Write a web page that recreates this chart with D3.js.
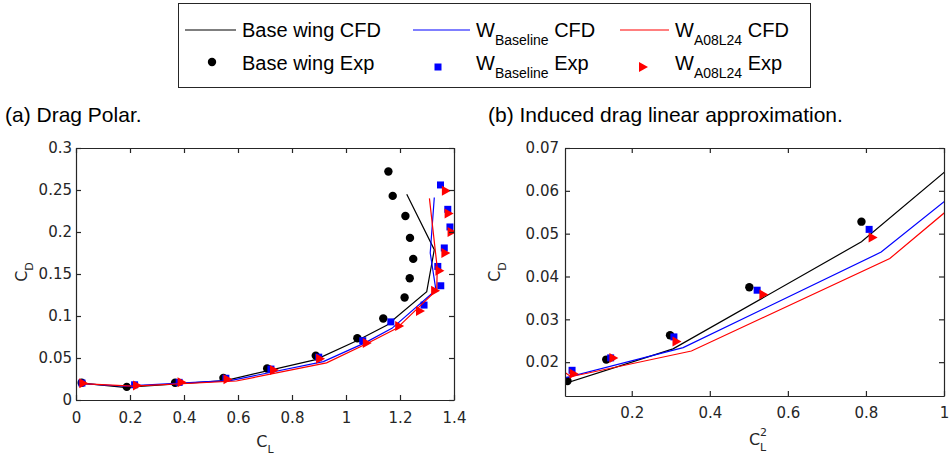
<!DOCTYPE html>
<html><head><meta charset="utf-8">
<script src="https://cdn.jsdelivr.net/npm/d3@7"></script>
<style>
body{margin:0;background:#fff}
svg{display:block}
.tick text{font-family:"DejaVu Sans",sans-serif;font-size:15px;fill:#262626}
.axis path,.axis line{stroke:#262626;stroke-width:1.2}
</style></head><body>
<script>
// ---------- data (left plot: C_L vs C_D) ----------
const baseCfdCL = [0.02, 0.18, 0.553, 0.888, 1.04, 1.151, 1.299, 1.327, 1.225];
const baseCfdCD = [0.0200, 0.0151, 0.0231, 0.0481, 0.0705, 0.089, 0.129, 0.179, 0.245];
const blueCfdCL = [0.02, 0.18, 0.576, 0.916, 1.07, 1.17, 1.333, 1.312, 1.327];
const blueCfdCD = [0.0195, 0.0164, 0.0234, 0.0457, 0.068, 0.0853, 0.131, 0.175, 0.241];
const redCfdCL  = [0.02, 0.21, 0.594, 0.928, 1.08, 1.188, 1.336, 1.338, 1.309];
const redCfdCD  = [0.0195, 0.0166, 0.0226, 0.0442, 0.0675, 0.0853, 0.131, 0.157, 0.240];

const baseExpCL = [0.021, 0.188, 0.367, 0.546, 0.708, 0.888, 1.042, 1.138, 1.217, 1.236, 1.249, 1.237, 1.220, 1.173, 1.157];
const baseExpCD = [0.0206, 0.0156, 0.0206, 0.0263, 0.0375, 0.0528, 0.0735, 0.097, 0.122, 0.145, 0.168, 0.193, 0.219, 0.243, 0.272];
const blueExpCL = [0.022, 0.217, 0.382, 0.555, 0.722, 0.899, 1.062, 1.166, 1.289, 1.351, 1.340, 1.364, 1.385, 1.377, 1.350];
const blueExpCD = [0.0202, 0.0181, 0.0210, 0.0259, 0.0368, 0.0510, 0.0706, 0.093, 0.113, 0.136, 0.159, 0.181, 0.206, 0.227, 0.256];
const redExpCL  = [0.027, 0.226, 0.391, 0.561, 0.733, 0.904, 1.077, 1.197, 1.274, 1.330, 1.346, 1.368, 1.391, 1.380, 1.370];
const redExpCD  = [0.0198, 0.0173, 0.0210, 0.0248, 0.0358, 0.0491, 0.068, 0.088, 0.106, 0.130, 0.154, 0.175, 0.200, 0.222, 0.249];

// ---------- ticks ----------
const leftXTicks  = [0, 0.2, 0.4, 0.6, 0.8, 1, 1.2, 1.4];
const leftYTicks  = [0, 0.05, 0.1, 0.15, 0.2, 0.25, 0.3];
const rightXTicks = [0.2, 0.4, 0.6, 0.8, 1];
const rightYTicks = [0.02, 0.03, 0.04, 0.05, 0.06, 0.07];
const leftXLabels  = ["0","0.2","0.4","0.6","0.8","1","1.2","1.4"];
const leftYLabels  = ["0","0.05","0.1","0.15","0.2","0.25","0.3"];
const rightXLabels = ["0.2","0.4","0.6","0.8","1"];
const rightYLabels = ["0.02","0.03","0.04","0.05","0.06","0.07"];

const W = 952, H = 455;
const svg = d3.select("body").append("svg").attr("width", W).attr("height", H);
const AX = "#262626";

const series = [
  {cl: baseCfdCL, cd: baseCfdCD, type: "line", color: "#000000"},
  {cl: baseExpCL, cd: baseExpCD, type: "circle", color: "#000000"},
  {cl: blueCfdCL, cd: blueCfdCD, type: "line", color: "#0000ff"},
  {cl: blueExpCL, cd: blueExpCD, type: "square", color: "#0000ff"},
  {cl: redCfdCL,  cd: redCfdCD,  type: "line", color: "#ff0000"},
  {cl: redExpCL,  cd: redExpCD,  type: "tri", color: "#ff0000"}
];

function drawMarker(g, type, color, x, y) {
  if (type === "circle") g.append("circle").attr("cx", x).attr("cy", y).attr("r", 4.2).attr("fill", color);
  else if (type === "square") g.append("rect").attr("x", x - 3.5).attr("y", y - 3.5).attr("width", 7).attr("height", 7).attr("fill", color);
  else if (type === "tri") g.append("path").attr("d", `M${x-4},${y-5}L${x+5},${y}L${x-4},${y+5}Z`).attr("fill", color);
}

function panel(opts) {
  const {x, y, xTicks, yTicks, xLabels, yLabels, xf, id, xPad, yPad} = opts;
  const g = svg.append("g");
  const [x0, x1] = x.range(), [y0, y1] = y.range();
  svg.append("clipPath").attr("id", id).append("rect")
    .attr("x", x0).attr("y", y1).attr("width", x1 - x0).attr("height", y0 - y1);
  const data = g.append("g").attr("clip-path", `url(#${id})`);
  const [dx0, dx1] = x.domain(), [dy0, dy1] = y.domain();
  series.forEach(s => {
    const pts = s.cl.map((c, i) => [xf(c), s.cd[i]]);
    if (s.type === "line") {
      data.append("path").attr("d", d3.line().x(p => x(p[0])).y(p => y(p[1]))(pts))
        .attr("fill", "none").attr("stroke", s.color).attr("stroke-width", 1.2);
    } else {
      pts.filter(p => p[0] >= dx0 && p[0] <= dx1 && p[1] >= dy0 && p[1] <= dy1)
        .forEach(p => drawMarker(data, s.type, s.color, x(p[0]), y(p[1])));
    }
  });
  const fx = d => xLabels[xTicks.indexOf(d)], fy = d => yLabels[yTicks.indexOf(d)];
  g.append("g").attr("class", "axis").attr("transform", `translate(0,${y0})`)
    .call(d3.axisBottom(x).tickValues(xTicks).tickFormat(fx).tickSizeInner(-5).tickSizeOuter(0).tickPadding(xPad));
  g.append("g").attr("class", "axis").attr("transform", `translate(0,${y1})`)
    .call(d3.axisTop(x).tickValues(xTicks).tickFormat("").tickSizeInner(-5).tickSizeOuter(0));
  g.append("g").attr("class", "axis").attr("transform", `translate(${x0},0)`)
    .call(d3.axisLeft(y).tickValues(yTicks).tickFormat(fy).tickSizeInner(-5).tickSizeOuter(0).tickPadding(yPad));
  g.append("g").attr("class", "axis").attr("transform", `translate(${x1},0)`)
    .call(d3.axisRight(y).tickValues(yTicks).tickFormat("").tickSizeInner(-5).tickSizeOuter(0));
  g.selectAll(".domain").attr("stroke", AX);
}

const xL = d3.scaleLinear().domain([0, 1.4]).range([76, 454]);
const yL = d3.scaleLinear().domain([0, 0.3]).range([400, 148]);
panel({x: xL, y: yL, xTicks: leftXTicks, yTicks: leftYTicks, xLabels: leftXLabels, yLabels: leftYLabels,
  xf: c => c, id: "clipL", xPad: 12, yPad: 4});

const xR = d3.scaleLinear().domain([0.029, 1]).range([565, 944]);
const yR = d3.scaleLinear().domain([0.0121, 0.07]).range([396, 148]);
panel({x: xR, y: yR, xTicks: rightXTicks, yTicks: rightYTicks, xLabels: rightXLabels, yLabels: rightYLabels,
  xf: c => c * c, id: "clipR", xPad: 11, yPad: 6});

// ---------- axis labels ----------
const lab = {"font-family": "DejaVu Sans, sans-serif", "fill": AX};
function applyAttrs(sel, o) { Object.entries(o).forEach(([k, v]) => sel.attr(k, v)); return sel; }

let t = applyAttrs(svg.append("text"), lab).attr("x", 265).attr("y", 447).attr("text-anchor", "middle").attr("font-size", 16);
t.append("tspan").text("C");
t.append("tspan").attr("font-size", 11).attr("dy", 6).text("L");

t = applyAttrs(svg.append("text"), lab).attr("x", 758).attr("y", 445).attr("text-anchor", "middle").attr("font-size", 16);
t.append("tspan").text("C");
t.append("tspan").attr("font-size", 11).attr("dy", -9).text("2");
t.append("tspan").attr("font-size", 11).attr("dx", -7).attr("dy", 15).text("L");

t = applyAttrs(svg.append("text"), lab).attr("transform", "translate(27,272) rotate(-90)").attr("text-anchor", "middle").attr("font-size", 16);
t.append("tspan").text("C");
t.append("tspan").attr("font-size", 11).attr("dy", 6).text("D");

t = applyAttrs(svg.append("text"), lab).attr("transform", "translate(500,272) rotate(-90)").attr("text-anchor", "middle").attr("font-size", 16);
t.append("tspan").text("C");
t.append("tspan").attr("font-size", 11).attr("dy", 6).text("D");

// ---------- titles ----------
const titleFont = {"font-family": "Liberation Sans, Arial, sans-serif", "font-size": 21, "fill": "#000"};
applyAttrs(svg.append("text"), titleFont).attr("x", 5).attr("y", 122).text("(a) Drag Polar.");
applyAttrs(svg.append("text"), titleFont).attr("x", 488).attr("y", 122).text("(b) Induced drag linear approximation.");

// ---------- legend ----------
const leg = svg.append("g");
leg.append("rect").attr("x", 178.5).attr("y", 3.5).attr("width", 632).attr("height", 84)
  .attr("fill", "#fff").attr("stroke", AX).attr("stroke-width", 1);
const legFont = {"font-family": "Liberation Sans, Arial, sans-serif", "font-size": 20, "fill": "#000"};
const legItems = [
  {lx: 185, tx: 242, mx: 212, row: 0, s: series[0], main: "Base wing CFD"},
  {lx: 185, tx: 242, mx: 212, row: 1, s: series[1], main: "Base wing Exp"},
  {lx: 413, tx: 476, mx: 438, row: 0, s: series[2], sub: "Baseline", tail: " CFD"},
  {lx: 413, tx: 476, mx: 438, row: 1, s: series[3], sub: "Baseline", tail: " Exp"},
  {lx: 620, tx: 675, mx: 643, row: 0, s: series[4], sub: "A08L24", tail: " CFD"},
  {lx: 620, tx: 675, mx: 643, row: 1, s: series[5], sub: "A08L24", tail: " Exp"}
];
legItems.forEach(it => {
  const yy = it.row === 0 ? 30 : 63;
  if (it.s.type === "line") {
    leg.append("line").attr("x1", it.lx).attr("x2", it.tx - 6).attr("y1", yy).attr("y2", yy)
      .attr("stroke", it.s.color).attr("stroke-width", 1.2);
  } else {
    drawMarker(leg, it.s.type, it.s.color, it.mx, it.s.type === "circle" ? yy - 1 : yy + 4);
  }
  const tt = applyAttrs(leg.append("text"), legFont).attr("x", it.tx).attr("y", yy + 7);
  if (it.main) tt.text(it.main);
  else {
    tt.append("tspan").text("W");
    tt.append("tspan").attr("font-size", 14).attr("dy", 8).text(it.sub);
    tt.append("tspan").attr("dy", -8).text(it.tail);
  }
});
</script>
</body></html>
